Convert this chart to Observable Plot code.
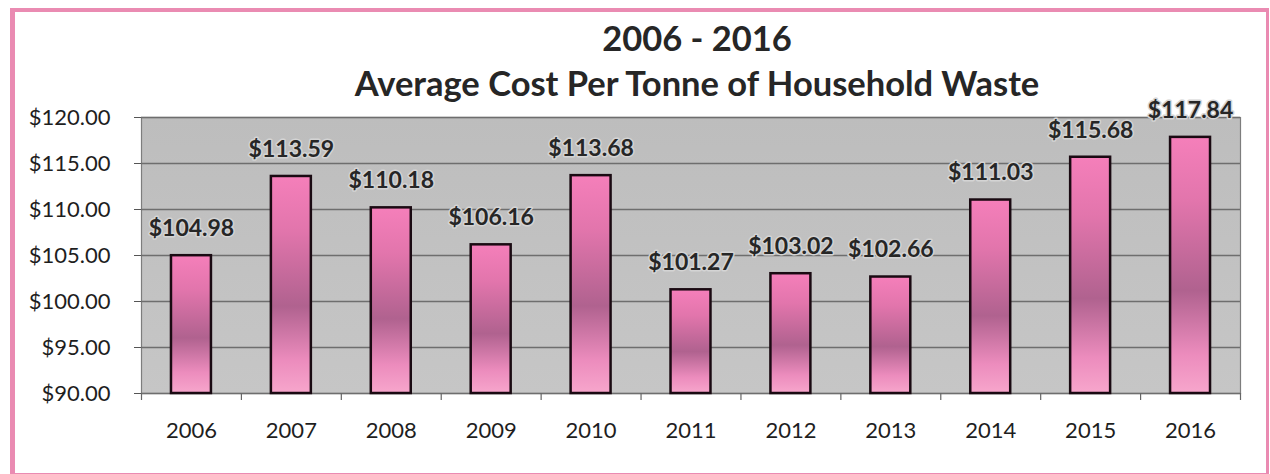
<!DOCTYPE html>
<html>
<head>
<meta charset="utf-8">
<script src="https://cdn.jsdelivr.net/npm/d3@7"></script>
<script src="https://cdn.jsdelivr.net/npm/@observablehq/plot@0.6"></script>
<style>
  html, body { margin: 0; padding: 0; background: #fff; }
  #wrap { position: relative; width: 1270px; height: 474px; overflow: hidden; font-family: Lato, "Open Sans", sans-serif; }
  #border { position: absolute; left: 10px; top: 8px; width: 1251px; height: 461px; border: 4px solid #ea8bb2; border-left-width: 5px; border-right-width: 3px; border-top-width: 4px; pointer-events: none; }
  #title { position: relative; height: 105px; width: 1270px; }
  #title div { position: absolute; left: 0; width: 1394px; text-align: center; font-weight: 700; font-size: 34.5px; color: #262626; }
  svg { display: block; }
</style>
</head>
<body>
<div id="wrap">
  <div id="title">
    <div style="top: 17px;">2006 - 2016</div>
    <div style="top: 62px;">Average Cost Per Tonne of Household Waste</div>
  </div>
  <div id="chart"></div>
  <div id="border"></div>
</div>
<script>
const years = ["2006","2007","2008","2009","2010","2011","2012","2013","2014","2015","2016"];
const costs = [104.98, 113.59, 110.18, 106.16, 113.68, 101.27, 103.02, 102.66, 111.03, 115.68, 117.84];
const yTicks = [90, 95, 100, 105, 110, 115, 120];

const data = years.map((y, i) => ({year: y, cost: costs[i]}));

const W = 1270, ML = 141, MR = 30;
const step = (W - ML - MR) / years.length;

const chart = Plot.plot({
  width: W,
  height: 369,
  marginTop: 12,
  marginBottom: 81,
  marginLeft: ML,
  marginRight: MR,
  style: {fontFamily: "Lato, 'Open Sans', sans-serif", color: "#1e1e1e", background: "transparent", overflow: "visible"},
  x: {domain: years, paddingInner: 0.6, paddingOuter: 0.3, round: false, label: null},
  y: {domain: [90, 120], ticks: yTicks, label: null},
  marks: [
    Plot.frame({fill: "url(#bgGrad)", stroke: "#7d7d7d", strokeWidth: 1.2}),
    Plot.gridY(yTicks, {stroke: "#6e6e6e", strokeOpacity: 1, strokeWidth: 1.4}),
    Plot.axisY(yTicks, {tickSize: 7, tickPadding: 24, tickFormat: d => "$" + d.toFixed(2), fontSize: 22, stroke: "#555"}),
    Plot.axisX({tickSize: 0, tickPadding: 29, fontSize: 22}),
    Plot.ruleX(years, {x: d => d, dx: -step / 2, y1: 90, y2: 90, insetBottom: -7, stroke: "#666", strokeWidth: 1.2}),
    Plot.ruleX([years[years.length - 1]], {x: d => d, dx: step / 2, y1: 90, y2: 90, insetBottom: -7, stroke: "#666", strokeWidth: 1.2}),
    Plot.barY(data, {x: "year", y1: 90, y2: "cost", fill: "url(#barGrad)", stroke: "#1a0a12", strokeWidth: 2.5}),
    Plot.text(data, {x: "year", y: "cost", text: d => "$" + d.cost.toFixed(2), dy: -27, fontSize: 23, fontWeight: 700, fill: "#262626", stroke: "#d4d4d4", strokeWidth: 3})
  ]
});

const ns = "http://www.w3.org/2000/svg";
const defs = document.createElementNS(ns, "defs");
defs.innerHTML = `
  <linearGradient id="barGrad" x1="0" y1="0" x2="0" y2="1">
    <stop offset="0" stop-color="#f57fba"/>
    <stop offset="0.25" stop-color="#e275ac"/>
    <stop offset="0.6" stop-color="#b0628f"/>
    <stop offset="0.85" stop-color="#ec8cbd"/>
    <stop offset="1" stop-color="#f7a6cc"/>
  </linearGradient>
  <linearGradient id="bgGrad" x1="0" y1="0" x2="0" y2="1">
    <stop offset="0" stop-color="#bdbdbd"/>
    <stop offset="1" stop-color="#c6c6c6"/>
  </linearGradient>`;
chart.insertBefore(defs, chart.firstChild);
document.getElementById("chart").appendChild(chart);
</script>
</body>
</html>
